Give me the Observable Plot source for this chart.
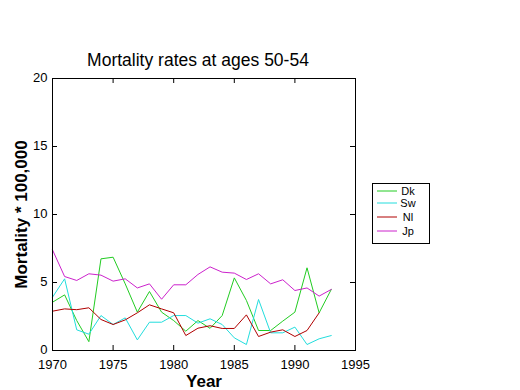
<!DOCTYPE html>
<html>
<head>
<meta charset="utf-8">
<script src="https://cdn.jsdelivr.net/npm/d3@7"></script>
<script src="https://cdn.jsdelivr.net/npm/@observablehq/plot@0.6"></script>
<style>
  body { margin: 0; background: #fff; }
  #chart svg { font-family: "Liberation Sans", Arial, sans-serif; }
</style>
</head>
<body>
<div id="chart"></div>
<script>
const years = d3.range(1970, 1994);
const dk = [3.55, 4.09, 2.2, 0.65, 6.74, 6.86, 4.9, 2.82, 4.34, 2.82, 2.2, 1.42, 2.2, 1.63, 2.57, 5.34, 3.68, 1.47, 1.47, 2.16, 2.82, 6.08, 2.77, 4.49];
const sw = [3.92, 5.27, 1.52, 1.2, 2.57, 1.91, 2.4, 0.78, 2.08, 2.08, 2.57, 2.57, 2.01, 2.33, 1.91, 0.93, 0.44, 3.75, 1.3, 1.3, 1.72, 0.44, 0.86, 1.1];
const nl = [2.89, 3.06, 3.0, 3.14, 2.28, 1.91, 2.25, 2.77, 3.36, 3.06, 2.77, 1.1, 1.64, 1.82, 1.62, 1.62, 2.62, 1.03, 1.35, 1.52, 1.03, 1.47, 2.77, null];
const jp = [7.4, 5.44, 5.15, 5.64, 5.54, 5.1, 5.27, 4.6, 4.9, 3.77, 4.83, 4.83, 5.59, 6.15, 5.76, 5.69, 5.22, 5.64, 4.9, 5.2, 4.41, 4.6, 4.0, 4.49];
const seriesNames = ["Dk", "Sw", "Nl", "Jp"];
const seriesValues = [dk, sw, nl, jp];
const colors = ["#22cc22", "#22dddd", "#b00000", "#cc22cc"];
const xTicks = [1970, 1975, 1980, 1985, 1990, 1995];
const yTicks = [0, 5, 10, 15, 20];
const title = "Mortality rates at ages 50-54";
const xLabel = "Year";
const yLabel = "Mortality * 100,000";

const data = [];
seriesNames.forEach((name, i) => {
  years.forEach((yr, j) => {
    const v = seriesValues[i][j];
    if (v != null) data.push({series: name, year: yr, value: v});
  });
});

const W = 520, H = 390;
const mTop = 78, mBottom = 40, mLeft = 52, mRight = 165;
const plotH = H - mTop - mBottom;
const plotW = W - mLeft - mRight;
const tick = 5;

const chart = Plot.plot({
  width: W,
  height: H,
  marginTop: mTop,
  marginBottom: mBottom,
  marginLeft: mLeft,
  marginRight: mRight,
  style: {fontFamily: "Liberation Sans, Arial, sans-serif", background: "#fff"},
  x: {domain: [1970, 1995]},
  y: {domain: [0, 20]},
  color: {domain: seriesNames, range: colors},
  marks: [
    Plot.line(data, {x: "year", y: "value", z: "series", stroke: "series", strokeWidth: 1}),
    Plot.frame({stroke: "#000", strokeWidth: 1}),
    // inward ticks bottom / top
    Plot.tickX(xTicks, {x: d => d, stroke: "#000", insetTop: plotH - tick}),
    Plot.tickX(xTicks, {x: d => d, stroke: "#000", insetBottom: plotH - tick}),
    // inward ticks left / right
    Plot.tickY(yTicks, {y: d => d, stroke: "#000", insetRight: plotW - tick}),
    Plot.tickY(yTicks, {y: d => d, stroke: "#000", insetLeft: plotW - tick}),
    Plot.axisX({ticks: xTicks, tickSize: 0, tickPadding: 9, tickFormat: d => String(d), fontSize: 13, label: null, fill: "#000"}),
    Plot.axisY({ticks: yTicks, tickSize: 0, tickPadding: 5, fontSize: 13, label: null, fill: "#000", dy: -1}),
    Plot.text([title], {frameAnchor: "top", dx: -6, dy: -13, text: d => d, fontSize: 17.5, fill: "#000", lineAnchor: "bottom"}),
    Plot.text([xLabel], {frameAnchor: "bottom", dy: 36, text: d => d, fontSize: 17, fontWeight: "bold", fill: "#000", lineAnchor: "bottom"}),
    Plot.text([yLabel], {frameAnchor: "left", dx: -31, rotate: -90, text: d => d, fontSize: 17, fontWeight: "bold", fill: "#000", textAnchor: "middle", lineAnchor: "middle"})
  ]
});

// legend
const svg = d3.select(chart);
const lg = svg.append("g").attr("font-family", "Liberation Sans, Arial, sans-serif").attr("font-size", 11);
lg.append("rect").attr("x", 372.5).attr("y", 183.5).attr("width", 57).attr("height", 60)
  .attr("fill", "#fff").attr("stroke", "#000");
const rowY = [191, 203, 217, 231];
seriesNames.forEach((name, i) => {
  lg.append("line").attr("x1", 377).attr("x2", 397).attr("y1", rowY[i]).attr("y2", rowY[i])
    .attr("stroke", colors[i]).attr("stroke-width", 1);
  lg.append("text").attr("x", 408).attr("y", rowY[i]).attr("dy", "0.35em").attr("fill", "#000").text(name);
});

document.getElementById("chart").appendChild(chart);
</script>
</body>
</html>
